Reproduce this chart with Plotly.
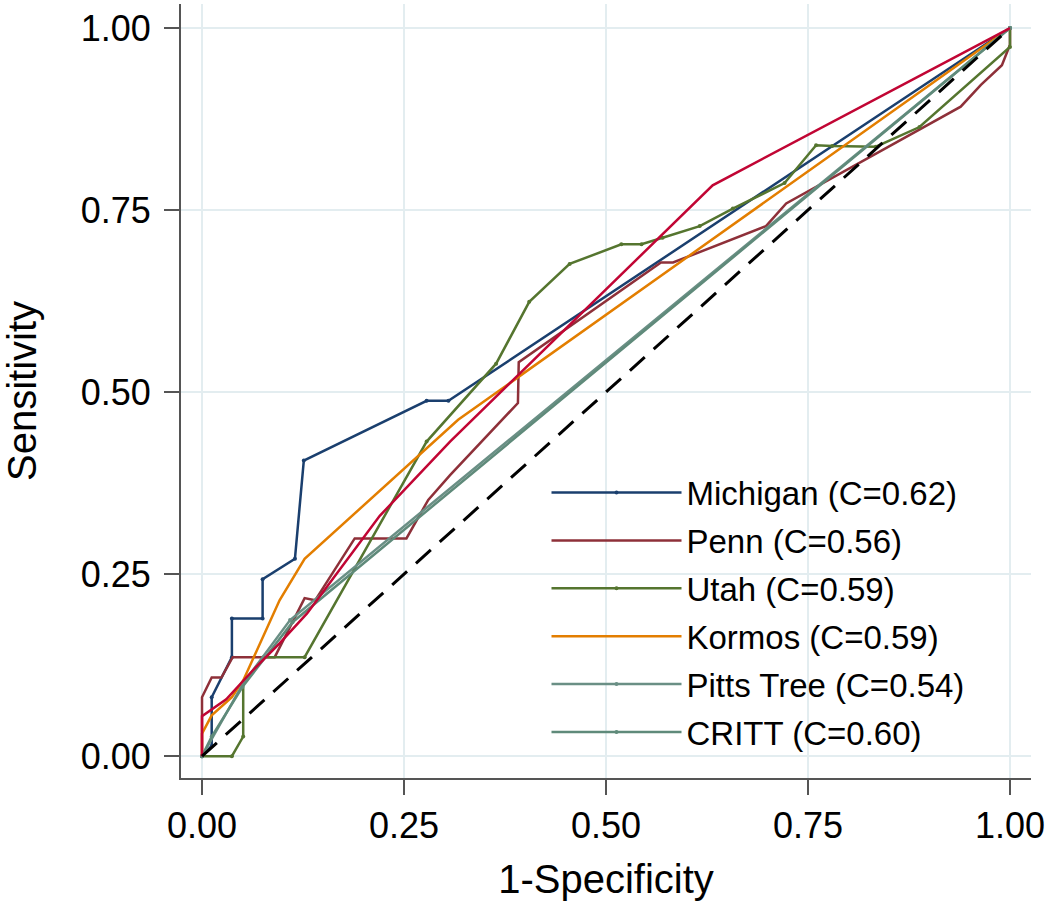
import plotly.graph_objects as go

# ROC curves (x = 1-Specificity, y = Sensitivity)
michigan_x = [0.0, 0.012, 0.012, 0.037, 0.037, 0.075, 0.075, 0.115, 0.126, 0.278, 0.305, 1.0]
michigan_y = [0.0, 0.014, 0.081, 0.136, 0.189, 0.189, 0.243, 0.271, 0.406, 0.488, 0.488, 1.0]

penn_x = [0.0, 0.0, 0.012, 0.024, 0.038, 0.09, 0.127, 0.14, 0.189, 0.253, 0.28, 0.307, 0.391, 0.392,
          0.568, 0.583, 0.698, 0.723, 0.939, 0.964, 0.99, 1.0, 1.0]
penn_y = [0.0, 0.081, 0.108, 0.108, 0.136, 0.136, 0.217, 0.214, 0.299, 0.299, 0.352, 0.386, 0.485, 0.541,
          0.678, 0.678, 0.728, 0.759, 0.892, 0.922, 0.949, 0.977, 1.0]

utah_x = [0.0, 0.037, 0.051, 0.051, 0.076, 0.127, 0.278, 0.364, 0.405, 0.455, 0.519, 0.544, 0.57, 0.616,
          0.657, 0.721, 0.76, 0.78, 0.834, 0.888, 1.0, 1.0]
utah_y = [0.0, 0.0, 0.027, 0.1, 0.136, 0.136, 0.432, 0.539, 0.624, 0.676, 0.703, 0.703, 0.712, 0.728,
          0.752, 0.787, 0.839, 0.838, 0.837, 0.864, 0.974, 1.0]

kormos_x = [0.0, 0.0, 0.012, 0.037, 0.051, 0.096, 0.127, 0.317, 1.0]
kormos_y = [0.0, 0.031, 0.056, 0.081, 0.104, 0.214, 0.271, 0.462, 1.0]

pitts_x = [0.0, 0.051, 0.109, 1.0]
pitts_y = [0.0, 0.1, 0.187, 1.0]

critt_x = [0.0, 0.012, 0.05, 0.112, 1.0]
critt_y = [0.0, 0.027, 0.095, 0.184, 1.0]

# unlabeled red curve
extra_x = [0.0, 0.0, 0.03, 0.063, 0.096, 0.13, 0.22, 0.307, 0.632, 1.0]
extra_y = [0.0, 0.055, 0.078, 0.118, 0.155, 0.196, 0.33, 0.432, 0.784, 1.0]

ref_x = [0.0, 1.0]
ref_y = [0.0, 1.0]

tick_vals = [0, 0.25, 0.5, 0.75, 1.0]
tick_text = ['0.00', '0.25', '0.50', '0.75', '1.00']

FONT = 'Liberation Sans, Arial, sans-serif'
AXIS_COLOR = '#555555'
GRID_COLOR = '#e3edf0'

fig = go.Figure()


def add_curve(x, y, name, color, markers=False, legend=True):
    fig.add_trace(go.Scatter(x=x, y=y, name=name, showlegend=legend, legendgroup=name,
                             mode='lines+markers' if markers else 'lines',
                             line=dict(color=color, width=2.5),
                             marker=dict(size=4, color=color)))


add_curve(michigan_x, michigan_y, 'Michigan (C=0.62)', '#1a3f6e', markers=True)
add_curve(penn_x, penn_y, 'Penn (C=0.56)', '#8e3039')
add_curve(utah_x, utah_y, 'Utah (C=0.59)', '#55752f', markers=True)
add_curve(kormos_x, kormos_y, 'Kormos (C=0.59)', '#e37e00')
add_curve(pitts_x, pitts_y, 'Pitts Tree (C=0.54)', '#6a8f85', markers=True)
add_curve(critt_x, critt_y, 'CRITT (C=0.60)', '#5f8a7a', markers=True)
add_curve(extra_x, extra_y, 'extra', '#c10534', legend=False)
fig.add_trace(go.Scatter(x=ref_x, y=ref_y, mode='lines', showlegend=False,
                         line=dict(color='black', width=3, dash='20px,12px')))

axis_common = dict(tickvals=tick_vals, ticktext=tick_text, showgrid=True, gridcolor=GRID_COLOR, gridwidth=2,
                   zeroline=False, showline=True, linecolor=AXIS_COLOR, linewidth=2,
                   ticks='outside', ticklen=15, tickwidth=2, tickcolor=AXIS_COLOR,
                   tickfont=dict(family=FONT, size=36, color='black'))

fig.update_xaxes(range=[-0.026, 1.026], title=dict(text='1-Specificity', font=dict(family=FONT, size=40),
                                                     standoff=20), **axis_common)
fig.update_yaxes(range=[-0.03, 1.033], title=dict(text='Sensitivity', font=dict(family=FONT, size=40),
                                                    standoff=33), ticklabelstandoff=6, **axis_common)

fig.update_layout(width=1052, height=907, margin=dict(l=181, r=21, t=4, b=129),
                  plot_bgcolor='white', paper_bgcolor='white',
                  font=dict(family=FONT, color='black'),
                  legend=dict(x=0.43, y=0.405, xanchor='left', yanchor='top', bgcolor='rgba(0,0,0,0)',
                              font=dict(family=FONT, size=33), itemwidth=130, tracegroupgap=2))

# page body has a default 8px margin; drop it so the figure sits at the window corner
fig.write_html('out.html', config={'displayModeBar': False},
               post_script="document.body.style.margin='0';")
